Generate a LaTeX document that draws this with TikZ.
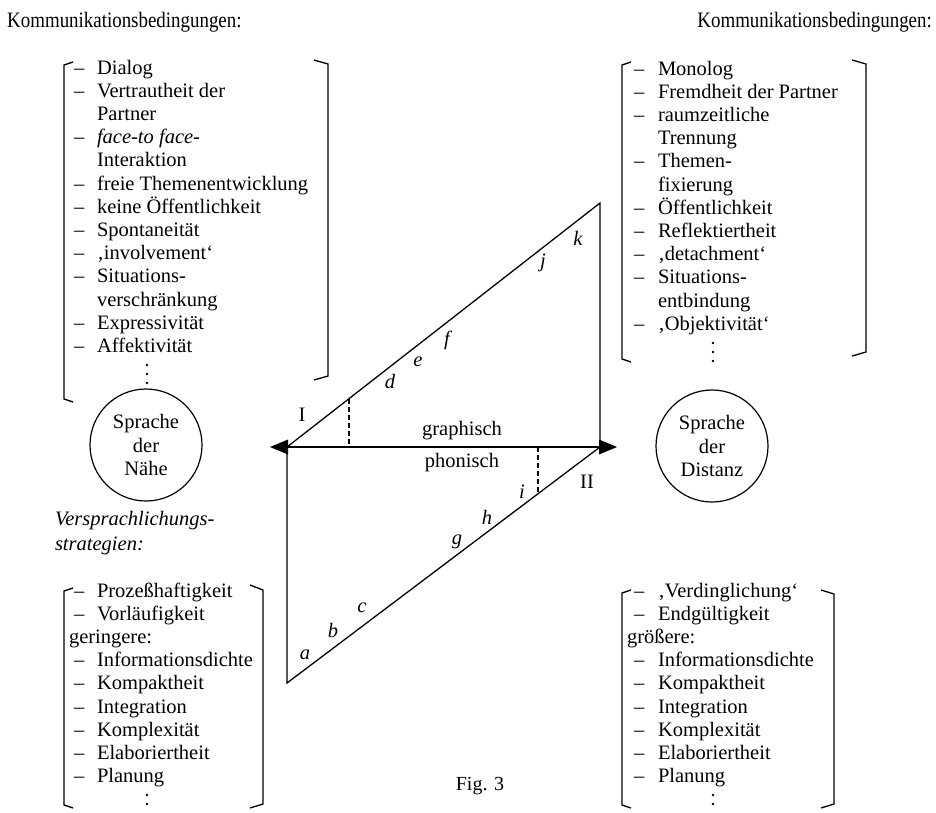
\documentclass[tikz,border=0pt]{standalone}
\usepackage{fontspec}
\setmainfont{Liberation Serif}
\usetikzlibrary{calc}
\newcommand\lstf{\fontsize{20.5}{23.2}\selectfont}
\newcommand\hdtext[1]{\scalebox{0.86}[1]{\fontsize{22}{24}\selectfont #1}}
\begin{document}
\begin{tikzpicture}[x=1pt,y=-1pt,
  txt/.style={anchor=base west,inner sep=0pt,outer sep=0pt,font=\lstf},
  hd/.style={inner sep=0pt},
  brk/.style={line width=1.3pt},
  tri/.style={line width=1.3pt,line join=miter},
  dsh/.style={line width=1.1pt,dash pattern=on 5pt off 3pt},
  lbl/.style={inner sep=0pt,font=\lstf\itshape},
  rom/.style={inner sep=0pt,font=\lstf},
  circ/.style={circle,draw,line width=1.2pt,minimum size=112pt,inner sep=0pt,align=center,font=\lstf},
  dotm/.style={fill=black}]
\useasboundingbox (0,0) rectangle (936,812);

% headers
\node[hd,anchor=base west] (h1) at (7,27) {\hdtext{Kommunikationsbedingungen:}};
\node[hd,anchor=base east] (h2) at (932,27) {\hdtext{Kommunikationsbedingungen:}};

% top-left list
\foreach \t/\d [count=\i from 0] in {Dialog/1,Vertrautheit der/1,Partner/0,{\textit{face-to face-}}/1,Interaktion/0,freie Themenentwicklung/1,keine Öffentlichkeit/1,Spontaneität/1,‚involvement‘/1,Situations-/1,verschränkung/0,Expressivität/1,Affektivität/1}{
  \node[txt] (tl\i) at (97,74+23.2*\i) {\t};
  \ifnum\d=1 \node[txt] (tld\i) at (74,74+23.2*\i) {–};\fi
}
\foreach \y in {365,374,383} \fill[dotm] (147,\y) circle (1.4);
\draw[brk] (73,62) -- (64,65) -- (64,399) -- (73,402);
\draw[brk] (314,60) -- (328,64) -- (328,376) -- (314,380);

% top-right list
\foreach \t/\d [count=\i from 0] in {Monolog/1,Fremdheit der Partner/1,raumzeitliche/1,Trennung/0,Themen-/1,fixierung/0,Öffentlichkeit/1,Reflektiertheit/1,‚detachment‘/1,Situations-/1,entbindung/0,‚Objektivität‘/1}{
  \node[txt] (tr\i) at (658,75+23.2*\i) {\t};
  \ifnum\d=1 \node[txt] (trd\i) at (634,75+23.2*\i) {–};\fi
}
\foreach \y in {343,352,361} \fill[dotm] (713,\y) circle (1.4);
\draw[brk] (631,62) -- (622,65) -- (622,359) -- (631,362);
\draw[brk] (852,60) -- (866,64) -- (866,352) -- (852,356);

% circles
\node[circ] (naehe) at (146,445) {Sprache\\der\\Nähe};
\node[circ] (distanz) at (712,446) {Sprache\\der\\Distanz};

% italic heading
\node[txt,font=\lstf\itshape] (vs1) at (55,525) {Versprachlichungs-};
\node[txt,font=\lstf\itshape] (vs2) at (55,550) {strategien:};

% bottom-left list
\foreach \t/\d [count=\i from 0] in {Prozeßhaftigkeit/1,Vorläufigkeit/1,geringere:/2,Informationsdichte/1,Kompaktheit/1,Integration/1,Komplexität/1,Elaboriertheit/1,Planung/1}{
  \ifnum\d=2 \node[txt] (bl\i) at (69,597+23.2*\i) {\t};
  \else \node[txt] (bl\i) at (97,597+23.2*\i) {\t};
  \node[txt] (bld\i) at (74,597+23.2*\i) {–};\fi
}
\foreach \y in {795,804} \fill[dotm] (147,\y) circle (1.4);
\draw[brk] (73,588) -- (64,591) -- (64,805) -- (73,808);
\draw[brk] (250,585) -- (263,590) -- (263,804) -- (250,808);

% bottom-right list
\foreach \t/\d [count=\i from 0] in {‚Verdinglichung‘/1,Endgültigkeit/1,größere:/2,Informationsdichte/1,Kompaktheit/1,Integration/1,Komplexität/1,Elaboriertheit/1,Planung/1}{
  \ifnum\d=2 \node[txt] (br\i) at (627,597+23.2*\i) {\t};
  \else \node[txt] (br\i) at (658,597+23.2*\i) {\t};
  \node[txt] (brd\i) at (634,597+23.2*\i) {–};\fi
}
\foreach \y in {795,804} \fill[dotm] (713,\y) circle (1.4);
\draw[brk] (631,590) -- (622,593) -- (622,805) -- (631,808);
\draw[brk] (821,590) -- (834,594) -- (834,804) -- (821,808);

% central figure
\coordinate (A) at (287,447);
\coordinate (T) at (600,203);
\coordinate (R) at (600,447);
\coordinate (B) at (287,683);
\draw[tri] (A) -- (T) -- (R);
\draw[tri] (A) -- (R);
\draw[tri] (A) -- (B) -- (R);
\fill ($(A)+(-17,0)$) -- ($(A)+(1,-7.5)$) -- ($(A)+(1,7.5)$) -- cycle;
\fill ($(R)+(17,0)$) -- ($(R)+(-1,-7.5)$) -- ($(R)+(-1,7.5)$) -- cycle;
\coordinate (d1) at ($(A)!0.198!(T)$);
\coordinate (d2) at ($(B)!0.802!(R)$);
\draw[dsh] (d1) -- (d1 |- A);
\draw[dsh] (d2 |- A) -- (d2);

\node[rom,anchor=base] (graph) at (462,435) {graphisch};
\node[rom,anchor=base] (phon) at (462,467) {phonisch};
\node[rom] (I) at (302,415) {I};
\node[rom] (II) at (587,482) {II};

\node[lbl] (la) at (305,655) {a};
\node[lbl] (lb) at (333,630) {b};
\node[lbl] (lc) at (362,608) {c};
\node[lbl] (ld) at (390,381) {d};
\node[lbl] (le) at (418,362) {e};
\node[lbl] (lf) at (447,340) {f};
\node[lbl] (lg) at (457,542) {g};
\node[lbl] (lh) at (487,517) {h};
\node[lbl] (li) at (522,492) {i};
\node[lbl] (lj) at (543,263) {j};
\node[lbl] (lk) at (578,238) {k};

\node[rom,anchor=base,font=\fontsize{20}{22}\selectfont] (fig) at (480,790) {Fig. 3};
\end{tikzpicture}
\end{document}
